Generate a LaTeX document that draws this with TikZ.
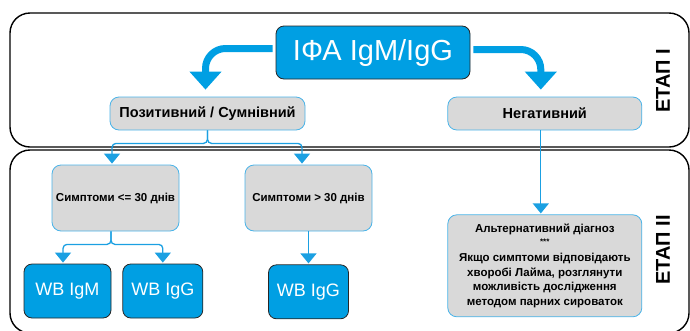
\documentclass[tikz,border=0pt]{standalone}
\usepackage{fontspec}
\setmainfont{Liberation Sans}
\usetikzlibrary{positioning,arrows.meta}

\definecolor{ifablue}{HTML}{009FE3}
\definecolor{lineblue}{HTML}{1BA0E2}
\definecolor{boxgray}{HTML}{D9D9D9}

\begin{document}
\begin{tikzpicture}[x=1pt,y=-1pt]
\tikzstyle{panel}=[draw=black, line width=1.4pt, rounded corners=20pt]
\tikzstyle{main}=[rectangle, rounded corners=8pt, fill=ifablue, draw=black!85, thick, text=white, inner sep=0pt]
\tikzstyle{box}=[rectangle, rounded corners=9pt, fill=boxgray, draw=lineblue!80, thick, inner sep=0pt, font=\bfseries\fontsize{14.5}{16}\selectfont]
\tikzstyle{connect}=[-{Triangle[width=16pt,length=10pt]}, lineblue, line width=1.3pt, rounded corners=4pt]
\tikzstyle{bigconnect}=[-{Triangle[width=31pt,length=18pt]}, ifablue, line width=7pt, rounded corners=20pt]
\tikzstyle{stage}=[rotate=90, font=\bfseries\fontsize{20}{22}\selectfont]
  \useasboundingbox (0,0) rectangle (690,330);
  % two stages
  \draw[panel] (10,13) rectangle (689,147);
  \draw[panel] (10,150) rectangle (689,333);
  \node[stage] (Stage1) at (663,81) {ЕТАП І};
  \node[stage] (Stage2) at (663,250) {ЕТАП ІІ};

  \node[main,minimum width=194pt,minimum height=53pt,font=\fontsize{29}{31}\selectfont] (IFA) at (373,52.5) {ІФА IgM/IgG};
  \node[box,minimum width=195pt,minimum height=33pt] (Pos) at (207.5,113.5) {Позитивний / Сумнівний};
  \node[box,minimum width=194pt,minimum height=33pt] (Neg) [right=142pt of Pos] {Негативний};

  \node[box,minimum width=127pt,minimum height=66pt,font=\bfseries\fontsize{11.5}{13}\selectfont] (Sym1) at (115.5,198) {Симптоми <= 30 днів};
  \node[box,minimum width=127pt,minimum height=66pt,font=\bfseries\fontsize{11.5}{13}\selectfont] (Sym2) at (308.5,198) {Симптоми > 30 днів};
  \node[box,minimum width=194pt,minimum height=102pt,align=center,font=\bfseries\fontsize{11.5}{14.5}\selectfont] (Alt) [below=84pt of Neg]
    {Альтернативний діагноз\\[-3pt]{\fontsize{8}{9}\selectfont ***}\\[3pt]Якщо симптоми відповідають\\хворобі Лайма, розглянути\\можливість дослідження\\методом парних сироваток};

  \node[main,minimum width=87pt,minimum height=54pt,font=\fontsize{18}{20}\selectfont] (WB1) at (67.5,291) {WB IgM};
  \node[main,minimum width=80pt,minimum height=54pt,font=\fontsize{18}{20}\selectfont] (WB2) [right=11pt of WB1] {WB IgG};
  \node[main,minimum width=80pt,minimum height=54pt,font=\fontsize{18}{20}\selectfont] (WB3) [below=33pt of Sym2] {WB IgG};

  \draw[bigconnect] ([xshift=-3pt,yshift=4pt]IFA.west) -| ([xshift=-2pt,yshift=7pt]Pos.north);
  \draw[bigconnect] ([xshift=3pt,yshift=3pt]IFA.east) -| ([xshift=-4pt,yshift=7pt]Neg.north);

  \draw[connect] (Pos.south) -- ++(0,13) -| ([xshift=-3.5pt,yshift=1pt]Sym1.north);
  \draw[connect] (Pos.south) -- ++(0,13) -| ([xshift=-6.5pt,yshift=1pt]Sym2.north);
  \draw[connect] ([xshift=-4.5pt]Sym1.south) -- ++(0,13) -| ([xshift=-4.5pt,yshift=1pt]WB1.north);
  \draw[connect] ([xshift=-4.5pt]Sym1.south) -- ++(0,13) -| ([yshift=1pt]WB2.north);
  \draw[connect] (Sym2.south) -- ([yshift=1pt]WB3.north);
  \draw[connect] ([xshift=-4pt]Neg.south) -- ([xshift=-4pt,yshift=1pt]Alt.north);
\end{tikzpicture}
\end{document}
